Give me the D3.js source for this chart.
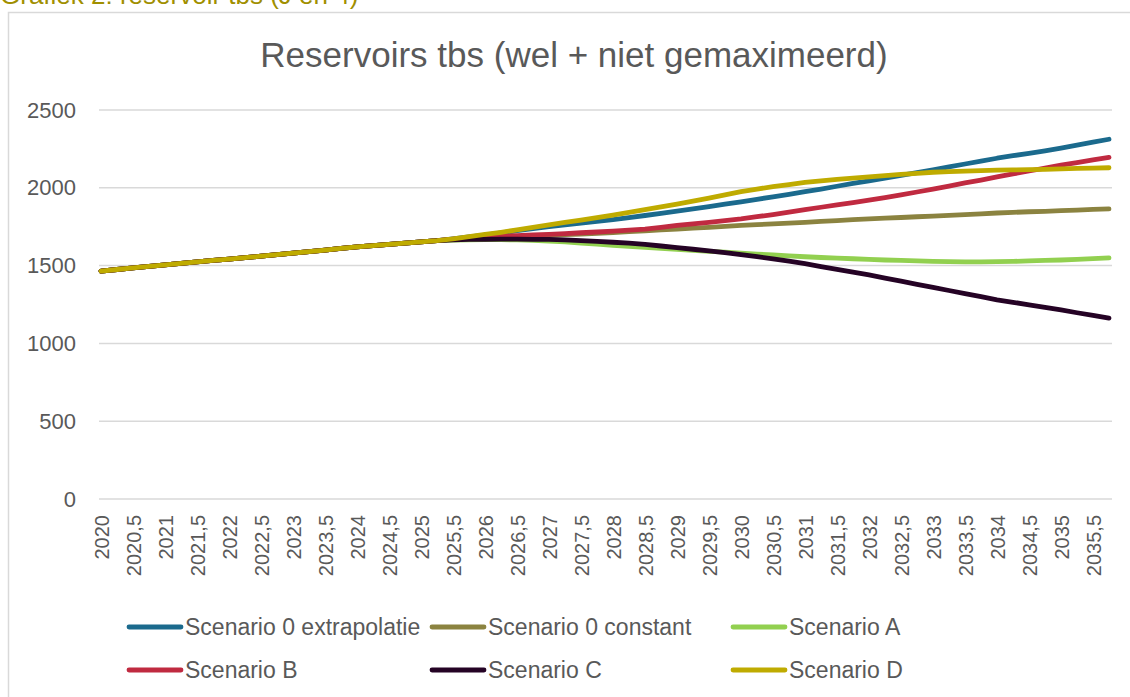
<!DOCTYPE html>
<html>
<head>
<meta charset="utf-8">
<script src="https://cdn.jsdelivr.net/npm/d3@7"></script>
<style>
  body { margin: 0; background: #fff; }
  svg { display: block; font-family: "Liberation Sans", Arial, sans-serif; }
</style>
</head>
<body>
<svg id="chart" width="1130" height="697"></svg>
<script>
// quarterly categories, labelled every half year
const quarters = [2020, 2020.25, 2020.5, 2020.75, 2021, 2021.25, 2021.5, 2021.75,
    2022, 2022.25, 2022.5, 2022.75, 2023, 2023.25, 2023.5, 2023.75,
    2024, 2024.25, 2024.5, 2024.75, 2025, 2025.25, 2025.5, 2025.75,
    2026, 2026.25, 2026.5, 2026.75, 2027, 2027.25, 2027.5, 2027.75,
    2028, 2028.25, 2028.5, 2028.75, 2029, 2029.25, 2029.5, 2029.75,
    2030, 2030.25, 2030.5, 2030.75, 2031, 2031.25, 2031.5, 2031.75,
    2032, 2032.25, 2032.5, 2032.75, 2033, 2033.25, 2033.5, 2033.75,
    2034, 2034.25, 2034.5, 2034.75, 2035, 2035.25, 2035.5, 2035.75];

const tickLabels = ["2020", "2020,5", "2021", "2021,5", "2022", "2022,5", "2023", "2023,5",
    "2024", "2024,5", "2025", "2025,5", "2026", "2026,5", "2027", "2027,5",
    "2028", "2028,5", "2029", "2029,5", "2030", "2030,5", "2031", "2031,5",
    "2032", "2032,5", "2033", "2033,5", "2034", "2034,5", "2035", "2035,5"];

const yTicks = [0, 500, 1000, 1500, 2000, 2500];

const scen0Extrapolatie = [1465, 1475, 1485, 1495, 1505, 1514, 1524, 1533, 1542, 1551, 1561, 1570,
    1580, 1590, 1600, 1610, 1620, 1628, 1637, 1645, 1652, 1660, 1672, 1684,
    1696, 1710, 1724, 1737, 1750, 1761, 1773, 1784, 1795, 1808, 1822, 1836,
    1850, 1864, 1879, 1895, 1910, 1926, 1942, 1958, 1975, 1992, 2010, 2028,
    2045, 2062, 2080, 2097, 2115, 2134, 2153, 2171, 2190, 2206, 2222, 2238,
    2255, 2274, 2293, 2312];

const scen0Constant = [1465, 1475, 1485, 1495, 1505, 1514, 1524, 1533, 1542, 1551, 1561, 1570,
    1580, 1590, 1600, 1610, 1620, 1628, 1637, 1645, 1652, 1660, 1668, 1673,
    1678, 1683, 1687, 1691, 1695, 1699, 1703, 1708, 1712, 1718, 1724, 1729,
    1735, 1741, 1746, 1752, 1758, 1763, 1768, 1773, 1778, 1784, 1789, 1795,
    1800, 1805, 1809, 1814, 1818, 1823, 1828, 1833, 1838, 1842, 1846, 1849,
    1853, 1857, 1861, 1864];

const scenA = [1465, 1475, 1485, 1495, 1505, 1514, 1524, 1533, 1542, 1551, 1561, 1570,
    1580, 1590, 1600, 1610, 1620, 1628, 1637, 1645, 1652, 1660, 1664, 1666,
    1667, 1667, 1665, 1662, 1658, 1652, 1645, 1638, 1630, 1624, 1618, 1611,
    1605, 1598, 1592, 1586, 1580, 1574, 1568, 1562, 1557, 1552, 1548, 1544,
    1540, 1536, 1533, 1530, 1527, 1525, 1524, 1524, 1525, 1527, 1530, 1533,
    1536, 1540, 1545, 1550];

const scenB = [1465, 1475, 1485, 1495, 1505, 1514, 1524, 1533, 1542, 1551, 1561, 1570,
    1580, 1590, 1600, 1610, 1620, 1628, 1637, 1645, 1652, 1660, 1670, 1678,
    1685, 1689, 1693, 1697, 1701, 1706, 1711, 1716, 1722, 1728, 1735, 1746,
    1758, 1768, 1778, 1789, 1800, 1814, 1828, 1844, 1860, 1875, 1890, 1905,
    1920, 1937, 1955, 1973, 1992, 2011, 2031, 2050, 2070, 2089, 2108, 2127,
    2145, 2162, 2179, 2196];

const scenC = [1465, 1475, 1485, 1495, 1505, 1514, 1524, 1533, 1542, 1551, 1561, 1570,
    1580, 1590, 1600, 1610, 1620, 1628, 1637, 1645, 1652, 1660, 1666, 1668,
    1669, 1670, 1670, 1669, 1668, 1665, 1661, 1656, 1650, 1644, 1637, 1626,
    1615, 1605, 1595, 1583, 1570, 1557, 1543, 1528, 1512, 1494, 1476, 1458,
    1440, 1420, 1400, 1380, 1360, 1340, 1320, 1300, 1280, 1264, 1248, 1231,
    1215, 1197, 1180, 1162];

const scenD = [1465, 1475, 1485, 1495, 1505, 1514, 1524, 1533, 1542, 1551, 1561, 1570,
    1580, 1590, 1600, 1610, 1620, 1628, 1637, 1645, 1652, 1660, 1672, 1686,
    1700, 1714, 1730, 1746, 1762, 1777, 1793, 1809, 1825, 1842, 1859, 1877,
    1895, 1914, 1934, 1955, 1975, 1992, 2007, 2021, 2035, 2045, 2054, 2062,
    2070, 2078, 2086, 2093, 2100, 2104, 2107, 2110, 2113, 2115, 2117, 2119,
    2122, 2125, 2127, 2129];

const seriesNames = ["Scenario 0 extrapolatie", "Scenario 0 constant", "Scenario A",
    "Scenario B", "Scenario C", "Scenario D"];
const seriesColors = ["#1b6a8d", "#8b8340", "#92d050", "#c02a40", "#250325", "#bfab00"];

const series = [scen0Extrapolatie, scen0Constant, scenA, scenB, scenC, scenD]
    .map((values, i) => ({ name: seriesNames[i], color: seriesColors[i], values: values }));

const svg = d3.select("#chart");
const textColor = "#595959";

// caption above the chart box, cut off by the top edge as in the source
svg.append("text")
    .attr("x", 0)
    .attr("y", 4)
    .attr("fill", "#a08f00")
    .attr("font-size", 26)
    .text("Grafiek 2: reservoir tbs (J en 4)");

// chart border
svg.append("rect")
    .attr("x", 8.5)
    .attr("y", 12.5)
    .attr("width", 1140)
    .attr("height", 700)
    .attr("fill", "none")
    .attr("stroke", "#d9d9d9")
    .attr("stroke-width", 1.5);

svg.append("text")
    .attr("x", 574)
    .attr("y", 67)
    .attr("text-anchor", "middle")
    .attr("fill", textColor)
    .attr("font-size", 35)
    .text("Reservoirs tbs (wel + niet gemaximeerd)");

const x = d3.scalePoint()
    .domain(quarters)
    .range([101, 1109]);

const y = d3.scaleLinear()
    .domain([0, 2500])
    .range([499, 110]);

// gridlines
svg.append("g")
    .selectAll("line")
    .data(yTicks)
    .enter().append("line")
    .attr("x1", 99)
    .attr("x2", 1112)
    .attr("y1", d => y(d))
    .attr("y2", d => y(d))
    .attr("stroke", "#d9d9d9")
    .attr("stroke-width", 1.5);

const yAxis = svg.append("g")
    .attr("transform", "translate(99,0)")
    .call(d3.axisLeft(y).tickValues(yTicks).tickSize(0).tickPadding(23)
        .tickFormat(d3.format("d")));
yAxis.select(".domain").remove();
yAxis.selectAll("text")
    .attr("fill", textColor)
    .attr("font-size", 22)
    .attr("font-family", "Liberation Sans, Arial, sans-serif");

const labelled = quarters.filter((q, i) => i % 2 === 0);
const xAxis = svg.append("g")
    .attr("transform", "translate(0,499)")
    .call(d3.axisBottom(x).tickValues(labelled).tickSize(0)
        .tickFormat((d, i) => tickLabels[i]));
xAxis.select(".domain").remove();
xAxis.selectAll("text")
    .attr("fill", textColor)
    .attr("font-size", 20)
    .attr("font-family", "Liberation Sans, Arial, sans-serif")
    .attr("text-anchor", "end")
    .attr("dy", "0.35em")
    .attr("transform", "translate(0,16) rotate(-90)")
    .attr("x", 0)
    .attr("y", 0);

const line = d3.line()
    .x((d, i) => x(quarters[i]))
    .y(d => y(d));

svg.append("g")
    .selectAll("path")
    .data(series)
    .enter().append("path")
    .attr("d", d => line(d.values))
    .attr("fill", "none")
    .attr("stroke", d => d.color)
    .attr("stroke-width", 4.8)
    .attr("stroke-linecap", "round")
    .attr("stroke-linejoin", "round");

// legend, two rows of three
const legendX = [127, 430, 731],
    legendY = [627, 670];

const legend = svg.append("g")
    .selectAll("g")
    .data(series)
    .enter().append("g")
    .attr("transform", (d, i) => "translate(" + legendX[i % 3] + "," + legendY[Math.floor(i / 3)] + ")");

legend.append("line")
    .attr("x1", 2)
    .attr("x2", 54)
    .attr("stroke", d => d.color)
    .attr("stroke-width", 4.8)
    .attr("stroke-linecap", "round");

legend.append("text")
    .attr("x", 58)
    .attr("dy", "0.35em")
    .attr("fill", textColor)
    .attr("font-size", 23)
    .text(d => d.name);
</script>
</body>
</html>
